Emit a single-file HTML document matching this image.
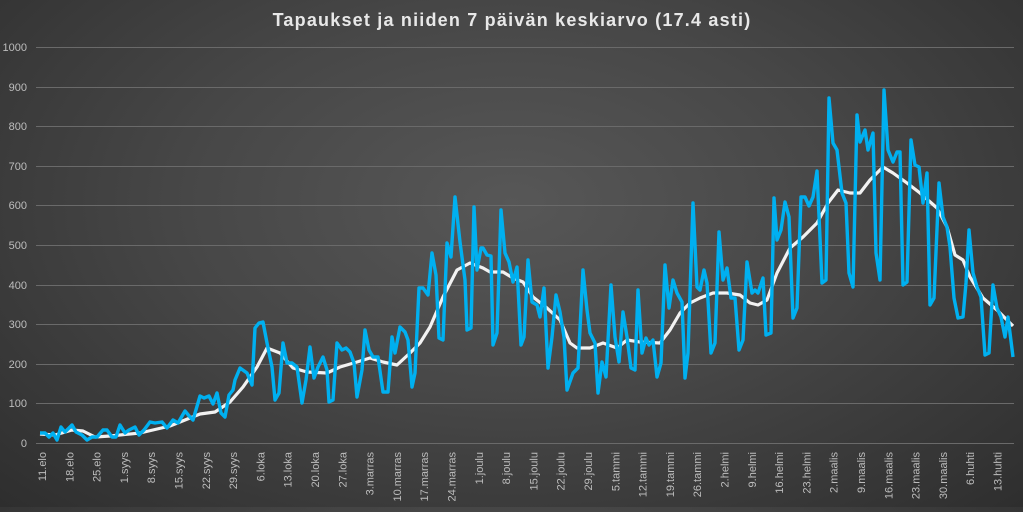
<!DOCTYPE html>
<html><head><meta charset="utf-8"><style>
html,body{margin:0;padding:0;}
body{width:1023px;height:507px;overflow:hidden;background:radial-gradient(ellipse at 50% 40%,#575757 0%,#474747 45%,#2e2e2e 100%);font-family:"Liberation Sans",sans-serif;}
</style></head><body>
<svg width="1023" height="507" viewBox="0 0 1023 507" xmlns="http://www.w3.org/2000/svg">
<text x="512" y="26" text-anchor="middle" font-family="Liberation Sans, sans-serif" font-weight="bold" font-size="18" letter-spacing="1.2" fill="#e8e8e8">Tapaukset ja niiden 7 päivän keskiarvo (17.4 asti)</text>
<g stroke="#6a6a6a" stroke-width="1">
<line x1="36" x2="1014" y1="443.5" y2="443.5"/><line x1="36" x2="1014" y1="403.5" y2="403.5"/><line x1="36" x2="1014" y1="364.5" y2="364.5"/><line x1="36" x2="1014" y1="324.5" y2="324.5"/><line x1="36" x2="1014" y1="285.5" y2="285.5"/><line x1="36" x2="1014" y1="245.5" y2="245.5"/><line x1="36" x2="1014" y1="205.5" y2="205.5"/><line x1="36" x2="1014" y1="166.5" y2="166.5"/><line x1="36" x2="1014" y1="126.5" y2="126.5"/><line x1="36" x2="1014" y1="87.5" y2="87.5"/><line x1="36" x2="1014" y1="47.5" y2="47.5"/>
</g>
<g font-family="Liberation Sans, sans-serif" font-size="11" fill="#bdbdbd" text-anchor="end">
<text x="27" y="447">0</text><text x="27" y="407">100</text><text x="27" y="368">200</text><text x="27" y="328">300</text><text x="27" y="289">400</text><text x="27" y="249">500</text><text x="27" y="209">600</text><text x="27" y="170">700</text><text x="27" y="130">800</text><text x="27" y="91">900</text><text x="27" y="51">1000</text>
</g>
<g font-family="Liberation Sans, sans-serif" font-size="11" fill="#bdbdbd" text-anchor="end" id="xl"></g>
<polyline fill="none" stroke="#f2f2f2" stroke-width="3.2" stroke-linejoin="round" points="40,434 55,435 72,430 83,431 95,437 110,436 140,433 170,426 185,420 200,414 215,412 230,402 243,387 257,367 267,348 280,353 293,368 307,372 327,373 340,367 357,362 370,358 383,362 397,365 410,353 420,343 430,327 443,297 457,270 470,263 483,268 490,272 503,272 513,278 523,282 533,297 547,308 560,320 570,343 577,348 590,348 603,343 617,348 627,340 640,342 660,343 670,330 680,313 690,303 700,298 713,293 727,293 740,295 750,303 758,305 767,300 777,273 790,248 803,237 817,223 828,203 838,190 850,193 860,193 870,180 883,167 893,173 907,183 920,193 937,208 947,227 955,255 963,260 970,277 983,298 997,310 1013,326"/>
<polyline fill="none" stroke="#00b0f0" stroke-width="3.4" stroke-linejoin="round" points="40,433 45,433 49,437 53,433 57,440 61,427 65,432 72,425 76,432 82,435 87,440 92,437 97,437 103,430 107,430 112,437 116,437 120,425 125,433 129,430 135,427 139,435 144,430 150,422 155,423 162,422 167,428 173,420 178,423 185,411 190,417 193,420 200,396 204,398 209,396 213,404 217,393 221,413 225,417 229,395 233,390 235,380 240,368 247,373 252,385 255,328 259,323 263,322 267,343 272,367 275,400 279,393 283,343 287,363 292,363 297,367 302,403 306,380 310,347 314,378 318,367 323,357 327,370 329,402 333,400 337,343 342,350 346,348 350,352 354,363 357,397 362,370 365,330 369,350 373,357 378,357 383,392 388,392 392,337 395,353 400,327 405,332 408,340 412,387 415,373 419,288 423,288 428,295 432,253 436,275 439,338 443,340 447,243 451,257 455,197 460,242 465,280 467,330 471,328 474,207 477,270 481,248 483,248 487,255 491,256 493,345 497,333 501,210 505,253 509,262 513,282 517,267 521,345 524,337 528,260 532,302 537,305 540,317 544,288 548,368 552,337 556,295 560,312 564,337 567,390 573,373 578,368 583,270 587,310 590,333 595,343 598,393 602,362 606,377 611,285 615,337 619,362 623,312 627,337 631,368 635,370 638,290 642,353 646,338 649,345 653,340 657,377 661,363 665,265 669,308 673,280 677,293 682,302 685,378 688,353 693,203 697,287 700,290 704,270 707,283 711,353 715,343 719,232 723,280 727,268 731,298 735,298 739,350 743,340 747,262 752,293 755,290 758,293 763,278 766,335 771,333 774,198 777,240 781,230 785,202 789,217 793,318 797,308 801,197 805,197 809,206 813,197 817,171 822,283 826,280 829,98 833,143 837,150 842,193 846,203 849,273 853,287 857,115 860,142 865,130 868,150 873,133 876,253 880,280 884,90 888,150 893,162 897,152 900,152 903,285 907,282 911,140 915,165 919,167 923,203 927,173 930,305 934,298 939,183 943,217 947,227 950,247 954,298 958,318 963,317 966,283 969,230 973,273 977,287 981,297 985,355 989,353 993,285 997,308 1001,317 1005,337 1008,317 1013,357"/>
</svg>
<script>
var L=["11.elo","18.elo","25.elo","1.syys","8.syys","15.syys","22.syys","29.syys","6.loka","13.loka","20.loka","27.loka","3.marras","10.marras","17.marras","24.marras","1.joulu","8.joulu","15.joulu","22.joulu","29.joulu","5.tammi","12.tammi","19.tammi","26.tammi","2.helmi","9.helmi","16.helmi","23.helmi","2.maalis","9.maalis","16.maalis","23.maalis","30.maalis","6.huhti","13.huhti"];
var g=document.getElementById("xl"),s="";
for(var i=0;i<L.length;i++){var x=42+i*27.3+4;s+='<text transform="translate('+x.toFixed(1)+',452) rotate(-90)">'+L[i]+'</text>';}
g.innerHTML=s;
</script>
</body></html>
